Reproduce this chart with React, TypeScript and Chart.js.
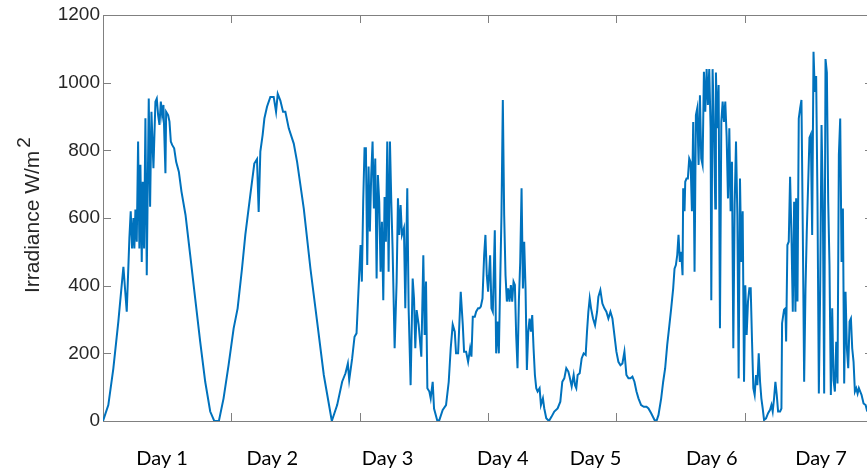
import React, { useEffect, useRef } from "react";
import { Chart, registerables } from "chart.js";

Chart.register(...registerables);

// Time axis in samples (0..1200), irradiance in W/m^2
const times = [
  0, 8.3, 16.1, 23.9, 31.8, 37.0, 39.6, 41.1, 43.2, 45.3, 47.4, 48.9, 50.5, 52.6, 54.7, 56.7, 58.3, 60.4, 61.9, 64.0,
  66.1, 68.2, 71.3, 73.4, 75.5, 78.6, 81.7, 83.8, 85.9, 88.0, 90.1, 92.1, 94.2, 97.3, 98.4, 101.5, 103.6, 105.7, 107.8, 110.9,
  114.0, 118.2, 122.3, 128.6, 135.9, 143.7, 151.5, 159.3, 167.1, 173.4, 180.6, 187.9, 195.7, 203.6, 209.8, 216.6, 221.8, 229.6, 235.8, 240.0,
  242.6, 245.2, 248.8, 251.5, 255.6, 260.8, 266.0, 269.7, 272.3, 276.4, 280.6, 284.2, 289.5,
  297.3, 302.5, 312.9, 323.3, 333.7, 344.1, 356.6, 364.9, 372.7, 377.9, 381.6, 383.7, 388.3, 392.0, 395.1, 398.8, 401.4, 403.4, 405.5, 407.6,
  409.7, 411.8, 413.9, 415.9, 418.0, 420.1, 422.2, 424.3, 426.4, 428.4, 430.5, 432.6, 434.7, 436.8, 438.8, 440.9, 443.0, 445.1, 447.2, 449.3,
  451.3, 454.5, 457.6, 459.7, 461.7, 463.8, 465.9, 469.0, 471.1, 474.2, 476.3, 479.4, 482.6, 484.7, 486.7, 488.8, 491.9, 496.1, 499.2, 501.3,
  503.4, 505.5, 508.6, 510.7, 513.8, 515.9, 521.1, 524.2, 529.4, 534.6, 538.8, 541.9, 545.0, 548.2, 550.2, 553.4, 557.5, 560.7, 562.7, 565.9,
  569.0, 572.1, 574.2, 576.3, 579.4, 581.5, 584.6, 586.7,
  588.8, 591.4, 594.0, 596.0, 598.1, 600.2, 603.3, 605.4, 607.5, 610.6, 612.7, 614.8, 616.9, 619.0, 621.0, 623.1, 625.2, 627.3, 629.4, 631.4,
  633.5, 635.6, 637.7, 639.8, 641.9, 643.9, 646.0, 648.1, 650.2, 652.3, 654.4, 656.4, 658.5, 660.6, 662.7, 664.8, 666.8, 668.9, 671.0, 673.1,
  675.2, 677.3, 680.4, 682.5, 685.6, 687.7, 690.8, 695.0, 699.1, 703.3, 708.5, 712.7, 715.8, 718.9, 722.0, 725.2, 727.2, 730.4, 733.5, 735.6,
  737.6, 739.7, 742.9, 746.0, 749.1, 752.2, 754.3, 756.4, 758.5, 760.6, 763.7, 766.8, 770.0, 772.0, 775.1, 778.3, 781.4, 784.5, 787.6, 790.8,
  793.9, 797.0, 800.1, 803.2, 806.4, 809.5, 812.6, 815.7, 818.9, 822.0, 825.1, 828.2, 831.4, 834.5, 838.6, 842.8, 847.0, 850.1, 854.3, 859.5,
  862.6, 865.7, 869.9, 873.0, 876.1, 879.3, 882.4, 885.5, 888.6,
  890.7, 892.8, 894.9, 896.9, 899.0, 901.1, 903.2, 904.2, 906.3, 907.4, 909.4, 911.5, 913.6, 915.7, 917.8, 919.8, 921.9, 924.0, 926.1, 928.2,
  930.3, 932.3, 934.4, 936.5, 938.6, 940.7, 942.7, 944.8, 946.9, 948.0, 950.0, 952.1, 954.2, 955.2, 957.3, 959.4, 961.5, 963.6, 965.7, 967.7,
  969.8, 971.9, 974.0, 976.1, 978.1, 980.2, 982.3, 984.4, 986.5, 988.6, 990.6, 992.7, 994.8, 996.9, 999.0, 1001.0, 1003.1, 1005.2, 1007.3, 1009.4,
  1011.5, 1013.5, 1015.6, 1017.7, 1019.8, 1021.9, 1024.0, 1026.0, 1028.1, 1030.2, 1033.3, 1036.5, 1039.6, 1041.7, 1043.7, 1045.8, 1047.9, 1050.0, 1052.1, 1055.2,
  1057.3, 1058.3, 1061.4, 1063.5, 1064.6, 1066.6, 1068.7, 1070.8, 1072.9, 1075.0, 1077.1, 1079.1, 1080.2, 1082.3, 1084.3, 1086.4, 1088.5, 1090.6, 1092.7, 1094.8,
  1096.8, 1101.0, 1103.1, 1105.2, 1107.3, 1109.3, 1111.4, 1113.5, 1115.6, 1117.7, 1119.8, 1121.8, 1123.9, 1126.0, 1128.1, 1130.2, 1132.2, 1134.3, 1136.4, 1138.5,
  1140.6, 1142.7, 1144.7, 1146.8, 1148.9, 1151.0, 1153.1, 1155.1, 1157.2, 1159.3, 1161.4, 1163.5, 1165.6, 1167.6, 1169.7, 1171.8, 1173.9, 1176.0, 1178.0, 1180.1,
  1182.2, 1185.3, 1188.5, 1191.0,
];

const irradiance = [
  0, 47, 155, 294, 456, 323, 460, 540, 620, 510, 600, 510, 625, 530, 826, 510, 757, 470, 707, 510,
  895, 431, 953, 633, 914, 747, 944, 953, 904, 875, 944, 904, 934, 732, 914, 904, 885, 826, 816, 806,
  766, 737, 678, 609, 490, 362, 234, 116, 28, 0, 0, 67, 165, 274, 333, 450, 550, 668, 761, 774,
  618, 796, 846, 894, 929, 958, 958, 914, 967, 947, 914, 914, 865,
  820, 766, 628, 450, 294, 136, 0, 47, 116, 141, 170, 121, 185, 249, 259, 412, 520, 412, 648, 806,
  806, 461, 752, 560, 727, 826, 628, 776, 421, 727, 648, 441, 589, 357, 662, 530, 826, 441, 826, 648,
  510, 215, 412, 658, 550, 638, 550, 570, 333, 688, 333, 106, 421, 362, 215, 328, 285, 190, 490, 254,
  412, 97, 87, 67, 116, 37, 0, 3, 33, 47, 116, 215, 285, 264, 200, 200, 382, 284, 205, 205,
  175, 215, 190, 308, 308, 323, 333, 333,
  338, 362, 490, 550, 431, 382, 490, 333, 323, 564, 200, 294, 200, 412, 609, 949, 609, 431, 353, 392,
  353, 402, 353, 412, 402, 254, 156, 353, 470, 688, 392, 530, 392, 151, 264, 303, 264, 313, 215, 136,
  97, 87, 97, 47, 67, 37, 8, 0, 13, 28, 37, 57, 116, 126, 156, 146, 131, 102, 136, 106,
  97, 136, 141, 185, 200, 195, 264, 323, 362, 333, 303, 283, 323, 367, 387, 347, 333, 323, 303, 323,
  303, 254, 205, 175, 165, 170, 205, 136, 126, 126, 131, 116, 87, 67, 47, 42, 42, 37, 23, 3,
  0, 18, 67, 116, 156, 225, 278, 333, 392,
  450, 461, 490, 550, 470, 500, 431, 688, 620, 707, 717, 717, 776, 766, 620, 884, 441, 904, 924, 757,
  963, 776, 757, 1032, 914, 1040, 934, 1040, 865, 357, 1040, 875, 628, 1030, 865, 993, 274, 884, 944, 884,
  944, 840, 658, 865, 620, 766, 215, 638, 826, 609, 126, 717, 470, 620, 116, 401, 254, 353, 392, 392,
  234, 97, 77, 136, 106, 200, 116, 67, 37, 3, 8, 23, 33, 47, 28, 67, 116, 77, 28, 28,
  37, 289, 329, 333, 235, 520, 530, 722, 550, 323, 648, 323, 658, 353, 894, 924, 949, 560, 116, 392,
  560, 837, 847, 550, 1091, 973, 1020, 648, 81, 392, 875, 648, 81, 1070, 1030, 648, 460, 77, 333, 121,
  87, 234, 111, 786, 894, 470, 628, 111, 382, 215, 156, 294, 303, 215, 175, 87, 97, 81, 97, 87,
  77, 52, 47, 28,
];

const dayLabels = ["Day 1", "Day 2", "Day 3", "Day 4", "Day 5", "Day 6", "Day 7"];
const dayLabelPositions = [92.1, 263.9, 443.5, 623.1, 767.6, 948.7, 1119.0];
const yTickValues = [0, 200, 400, 600, 800, 1000, 1200];
const xTickMarks = [0, 200, 400, 600, 800, 1000, 1200];

const AXIS_COLOR = "#808080";

const framePlugin = {
  id: "matlabFrame",
  beforeDatasetsDraw(chart: any) {
    const { ctx, chartArea: a, scales } = chart;
    ctx.save();
    ctx.strokeStyle = AXIS_COLOR;
    ctx.lineWidth = 1;
    ctx.beginPath();
    ctx.rect(Math.round(a.left) + 0.5, Math.round(a.top) + 0.5, Math.round(a.right - a.left), Math.round(a.bottom - a.top));
    ctx.stroke();
    const tl = 8;
    ctx.beginPath();
    for (const v of yTickValues) {
      const y = Math.round(scales.y.getPixelForValue(v)) + 0.5;
      ctx.moveTo(a.left, y);
      ctx.lineTo(a.left + tl, y);
      ctx.moveTo(a.right, y);
      ctx.lineTo(a.right - tl, y);
    }
    for (const v of xTickMarks) {
      const x = Math.round(scales.x.getPixelForValue(v)) + 0.5;
      ctx.moveTo(x, a.top);
      ctx.lineTo(x, a.top + tl);
      ctx.moveTo(x, a.bottom);
      ctx.lineTo(x, a.bottom - tl);
    }
    ctx.stroke();
    ctx.restore();
  },
  afterDraw(chart: any) {
    const { ctx } = chart;
    ctx.save();
    ctx.fillStyle = "#262626";
    ctx.translate(33, 293);
    ctx.rotate(-Math.PI / 2);
    ctx.textBaseline = "middle";
    ctx.textAlign = "left";
    ctx.font = "21px 'Liberation Sans', Arial, sans-serif";
    const main = "Irradiance W/m";
    ctx.fillText(main, 0, 0);
    const w = ctx.measureText(main).width;
    ctx.font = "19px 'Liberation Sans', Arial, sans-serif";
    ctx.fillText("2", w + 3, -8);
    ctx.restore();
  },
};

export default function App() {
  const ref = useRef<HTMLCanvasElement>(null);

  useEffect(() => {
    if (!ref.current) return;
    const points = times.map((t, i) => ({ x: t, y: irradiance[i] }));
    const chart = new Chart(ref.current, {
      type: "line",
      data: {
        datasets: [
          {
            data: points,
            borderColor: "#0072BD",
            borderWidth: 2,
            pointRadius: 0,
            tension: 0,
            fill: false,
          },
        ],
      },
      options: {
        animation: false,
        responsive: false,
        maintainAspectRatio: false,
        devicePixelRatio: 1,
        layout: { padding: { top: 15, right: 1, left: 0, bottom: 0 } },
        plugins: { legend: { display: false }, tooltip: { enabled: false } },
        scales: {
          x: {
            type: "linear",
            min: 0,
            max: 1200,
            grid: { display: false, drawTicks: false },
            border: { display: false },
            afterBuildTicks: (scale: any) => {
              scale.ticks = dayLabelPositions.map((v) => ({ value: v }));
            },
            afterFit: (scale: any) => {
              scale.height = 54;
            },
            ticks: {
              autoSkip: false,
              maxRotation: 0,
              padding: 26,
              color: "#000000",
              font: { family: "Lato, 'Open Sans', sans-serif", size: 20 },
              callback: (_v: any, i: number) => dayLabels[i],
            },
          },
          y: {
            min: 0,
            max: 1200,
            grid: { display: false, drawTicks: false },
            border: { display: false },
            afterBuildTicks: (scale: any) => {
              scale.ticks = yTickValues.map((v) => ({ value: v }));
            },
            afterFit: (scale: any) => {
              scale.width = 103;
            },
            ticks: {
              padding: 3,
              color: "#262626",
              font: { family: "'Liberation Sans', Arial, sans-serif", size: 19 },
              callback: (v: any) => String(v),
            },
          },
        },
      },
      plugins: [framePlugin],
    });
    return () => chart.destroy();
  }, []);

  return (
    <div
      style={{
        position: "absolute",
        left: 0,
        top: 0,
        width: 867,
        height: 475,
        overflow: "hidden",
        background: "#ffffff",
      }}
    >
      <canvas ref={ref} width={874} height={475} style={{ display: "block", width: 874, height: 475 }} />
    </div>
  );
}
